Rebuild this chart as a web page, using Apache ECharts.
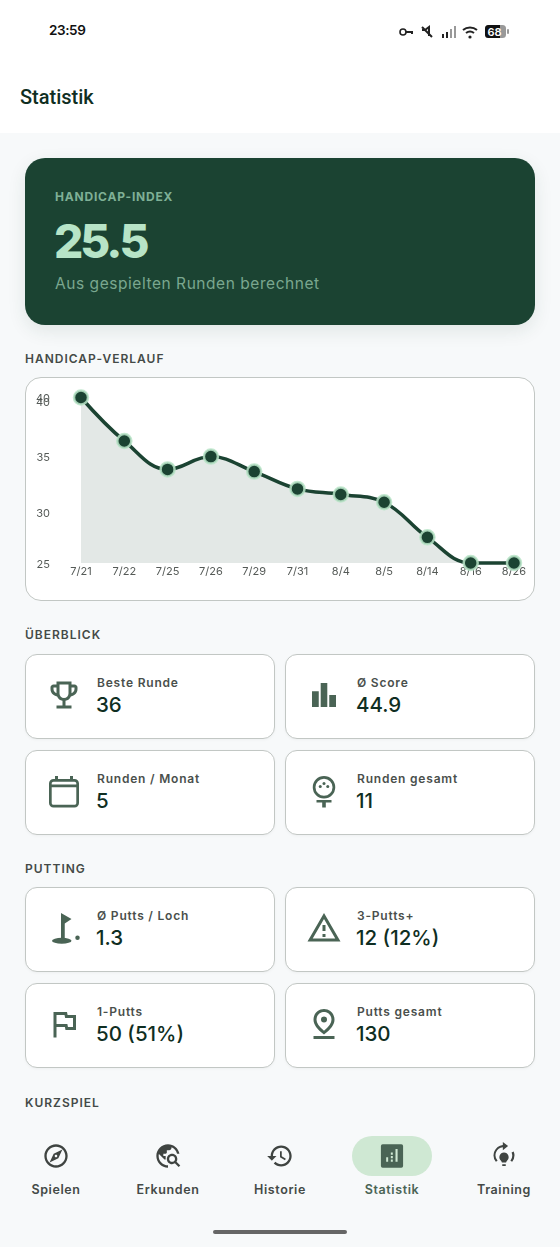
<!DOCTYPE html>
<html lang="de">
<head>
<meta charset="utf-8">
<title>Statistik</title>
<script src="https://cdn.jsdelivr.net/npm/echarts@6/dist/echarts.min.js"></script>
<style>
  html, body { margin: 0; padding: 0; width: 560px; height: 1247px; overflow: hidden; background: #f7f9fa; font-family: Inter, sans-serif; }
  .abs { position: absolute; white-space: nowrap; line-height: 1; }
  #header { position: absolute; left: 0; top: 0; width: 560px; height: 133px; background: #fff; }
  #hero { position: absolute; left: 25px; top: 158px; width: 510px; height: 167px; border-radius: 20px; background: #1b4332; box-shadow: 0 6px 18px rgba(27,67,50,.10); }
  .section { font-size: 12px; font-weight: 600; letter-spacing: 1px; color: #444a47; left: 25px; }
  .card { position: absolute; box-sizing: border-box; width: 250px; height: 85px; background: #fff; border: 1px solid #c2c7c4; border-radius: 12px; box-shadow: 0 1px 3px rgba(0,0,0,.04); }
  .card .lbl { position: absolute; left: 71px; top: 21px; font-size: 12px; font-weight: 600; letter-spacing: .8px; color: #4a4f4c; line-height: 14px; white-space: nowrap; }
  .card .val { position: absolute; left: 70px; top: 38px; font-size: 20.500px; font-weight: 500; color: #0f2e22; line-height: 24px; white-space: nowrap; }
  .card svg { position: absolute; left: 20px; top: 22px; width: 36px; height: 36px; fill: #4a6455; }
  #chartCard { position: absolute; box-sizing: border-box; left: 25px; top: 377px; width: 510px; height: 224px; background: #fff; border: 1px solid #c2c7c4; border-radius: 16px; }
  #chart { position: absolute; left: 25px; top: 377px; width: 510px; height: 224px; }
  #nav { position: absolute; left: 0; top: 1115px; width: 560px; height: 132px; background: #f7f9fa; }
  .nav-item { position: absolute; top: 1183px; width: 112px; text-align: center; font-size: 12.500px; font-weight: 600; letter-spacing: .6px; color: #444a47; line-height: 14px; }
  .nav-icon { position: absolute; width: 28px; height: 28px; top: 1142px; fill: #3f4441; }
  #pill { position: absolute; left: 352px; top: 1136px; width: 80px; height: 40px; border-radius: 20px; background: #cfe8d3; }
  #homebar { position: absolute; left: 213px; top: 1230px; width: 134px; height: 4px; border-radius: 2px; background: #666; }
</style>
</head>
<body>
<div id="header"></div>
<div class="abs" style="left:49px;top:24px;font-size:13.500px;font-weight:600;letter-spacing:-.4px;color:#111">23:59</div>
<svg class="abs" style="left:398px;top:22px" width="116" height="18" viewBox="0 0 116 18">
  <circle cx="5" cy="10" r="3" fill="none" stroke="#222" stroke-width="1.6"/>
  <path d="M8 9h7v3h-2v-1H8z" fill="#222"/>
  <path d="M24 8h3l4-3v9M24 5l10 10" fill="none" stroke="#222" stroke-width="2"/>
  <rect x="44" y="12" width="2" height="4" fill="#222"/><rect x="48" y="10" width="2" height="6" fill="#222"/>
  <rect x="52" y="7" width="2" height="9" fill="#999"/><rect x="56" y="4" width="2" height="12" fill="#999"/>
  <path d="M65 8a11 11 0 0 1 14 0M68 11a6.5 6.5 0 0 1 8 0" fill="none" stroke="#222" stroke-width="2"/>
  <circle cx="72" cy="15" r="1.6" fill="#222"/>
  <rect x="87" y="3" width="21" height="13" rx="3.5" fill="#999"/>
  <path d="M90.500 3H102v13H90.500a3.500 3.500 0 0 1-3.500-3.500v-6A3.500 3.500 0 0 1 90.500 3z" fill="#111"/>
  <text x="96.500" y="13.500" text-anchor="middle" font-family="Inter" font-size="11" font-weight="600" fill="#fff">68</text>
  <rect x="109" y="7" width="2" height="5" rx="1" fill="#999"/>
</svg>
<div class="abs" style="left:20px;top:87px;font-family:Roboto,sans-serif;font-size:20px;font-weight:500;color:#0f2e22">Statistik</div>

<div id="hero"></div>
<div class="abs" style="left:55px;top:191px;font-size:12px;font-weight:700;letter-spacing:.8px;color:#7fb096">HANDICAP-INDEX</div>
<div class="abs" style="left:54px;top:218px;font-size:46px;font-weight:800;letter-spacing:-3px;color:#b7e4c7">25.5</div>
<div class="abs" style="left:55px;top:276px;font-size:15.500px;letter-spacing:.55px;color:#7aa78f">Aus gespielten Runden berechnet</div>

<div class="abs section" style="top:353px">HANDICAP-VERLAUF</div>
<div id="chartCard"></div>
<div id="chart"></div>

<div class="abs section" style="top:629px">ÜBERBLICK</div>
<div class="abs section" style="top:863px">PUTTING</div>
<div class="abs section" style="top:1097px">KURZSPIEL</div>
<div id="cards"></div>

<div id="nav"></div>
<div id="pill"></div>
<div id="navItems"></div>
<div id="homebar"></div>

<script>
// chart data
const dates = ['7/21', '7/22', '7/25', '7/26', '7/29', '7/31', '8/4', '8/5', '8/14', '8/16', '8/26']
const handicap = [40.3, 36.4, 33.85, 35.0, 33.65, 32.1, 31.6, 30.9, 27.75, 25.45, 25.45]
const yTicks = [25.45, 30, 35, 40]
const yMaxTick = [40.3]

// stat cards
const overviewLabels = ['Beste Runde', 'Ø Score', 'Runden / Monat', 'Runden gesamt']
const overviewValues = ['36', '44.9', '5', '11']
const puttingLabels = ['Ø Putts / Loch', '3-Putts+', '1-Putts', 'Putts gesamt']
const puttingValues = ['1.3', '12 (12%)', '50 (51%)', '130']
const navLabels = ['Spielen', 'Erkunden', 'Historie', 'Statistik', 'Training']

const overviewIcons = [
  '<path d="M19 5h-2V3H7v2H5c-1.100 0-2 .9-2 2v1c0 2.550 1.920 4.630 4.390 4.940.63 1.500 1.980 2.630 3.610 2.960V19H7v2h10v-2h-4v-3.100c1.630-.33 2.980-1.460 3.610-2.960C19.080 12.630 21 10.550 21 8V7c0-1.100-.9-2-2-2zM5 8V7h2v3.820C5.840 10.400 5 9.300 5 8zm7 6c-1.650 0-3-1.350-3-3V5h6v6c0 1.650-1.350 3-3 3zm7-6c0 1.300-.84 2.400-2 2.820V7h2v1z"/>',
  '<path d="M4 9.500h4.500V20H4zM9.800 4h4.400v16H9.800zm5.700 8H20v8h-4.500z"/>',
  '<path fill-rule="evenodd" d="M6 2h2v2h8V2h2v2h1a3 3 0 0 1 3 3v13a3 3 0 0 1-3 3H5a3 3 0 0 1-3-3V7a3 3 0 0 1 3-3h1zM3.800 9.500V20c0 .7.5 1.200 1.200 1.200h14c.7 0 1.200-.5 1.200-1.200V9.500zm0-1.800h16.400V7c0-.7-.5-1.200-1.200-1.200H5C4.300 5.800 3.800 6.300 3.800 7z"/>',
  '<path fill-rule="evenodd" d="M12 2a7.500 7.500 0 1 1 0 15 7.500 7.500 0 0 1 0-15zm0 1.800a5.700 5.700 0 1 0 0 11.400 5.700 5.700 0 0 0 0-11.400z"/><circle cx="12" cy="7" r="1"/><circle cx="9.500" cy="9" r="1"/><circle cx="14.500" cy="9" r="1"/><path d="M7 18h10v1.600h-3.800V23h-2.400v-3.400H7z"/>'
]
const puttingIcons = [
  '<path d="M10 2l7 4-4.500 3V19H10z"/><ellipse cx="10.500" cy="20.500" rx="6.500" ry="2"/><circle cx="21" cy="18.500" r="1.500"/>',
  '<path d="M12 5.990L19.530 19H4.470L12 5.990M12 2L1 21h22L12 2zm1 14h-2v2h2v-2zm0-6h-2v4h2v-4z"/>',
  '<path d="M12.360 6l.4 2H18v6h-3.360l-.4-2H7V6h5.360M14 4H5v17h2v-7h5.600l.4 2h7V6h-5.600L14 4z"/>',
  '<path d="M12 4c1.930 0 5 1.400 5 5.150 0 2.160-1.720 4.670-5 7.320-3.280-2.650-5-5.170-5-7.320C7 5.400 10.070 4 12 4m0-2C8.730 2 5 4.460 5 9.150c0 3.120 2.330 6.410 7 9.850 4.670-3.440 7-6.730 7-9.850C19 4.460 15.270 2 12 2z"/><circle cx="12" cy="9" r="2"/><path d="M5 20h14v2H5z"/>'
]
const navIcons = [
  '<path d="M12 2C6.480 2 2 6.480 2 12s4.480 10 10 10 10-4.480 10-10S17.520 2 12 2zm0 18c-4.410 0-8-3.590-8-8s3.590-8 8-8 8 3.590 8 8-3.590 8-8 8zm-5.500-2.500l7.510-3.490L17.500 6.500 9.990 9.990 6.500 17.500zm5.500-6.600c.61 0 1.100.49 1.100 1.100s-.49 1.100-1.100 1.100-1.100-.49-1.100-1.100.49-1.100 1.100-1.100z"/>',
  '<path d="M19.300 16.900c.4-.7.7-1.500.7-2.400 0-2.500-2-4.500-4.500-4.500S11 12 11 14.500s2 4.500 4.500 4.500c.9 0 1.700-.3 2.400-.7l3.200 3.200 1.400-1.400-3.200-3.200zm-3.800.1c-1.400 0-2.500-1.100-2.500-2.500s1.100-2.500 2.500-2.500 2.500 1.100 2.500 2.500-1.100 2.500-2.500 2.500zM12 20v2C6.480 22 2 17.520 2 12S6.480 2 12 2c4.840 0 8.880 3.440 9.800 8h-2.070c-.64-2.460-2.400-4.470-4.730-5.460V5c0 1.100-.9 2-2 2h-2v2c0 .55-.45 1-1 1H8v2h2v3H9l-4.790-4.790C4.080 10.790 4 11.390 4 12c0 4.410 3.590 8 8 8z"/>',
  '<path d="M13 3c-4.970 0-9 4.030-9 9H1l3.890 3.890.07.14L9 12H6c0-3.870 3.130-7 7-7s7 3.130 7 7-3.130 7-7 7c-1.930 0-3.680-.79-4.940-2.060l-1.420 1.420C8.270 19.990 10.510 21 13 21c4.970 0 9-4.030 9-9s-4.030-9-9-9zm-1 5v5l4.280 2.540.72-1.210-3.500-2.080V8H12z"/>',
  '<path fill-rule="evenodd" d="M4 2h16a1.500 1.500 0 0 1 1.500 1.500v17A1.500 1.500 0 0 1 20 22H4a1.500 1.500 0 0 1-1.500-1.500v-17A1.500 1.500 0 0 1 4 2zm3 11v4h1.700v-4zm4-1v2h1.700v-2zm0 3v2h1.700v-2zm0-6v2h1.700V9zm4-3v11h1.800V6z" fill="#4a6455"/>',
  '<path d="M12 9a4 4 0 0 1 2.600 7c-.5.5-.8 1-.8 1.600h-3.600c0-.6-.3-1.100-.8-1.600A4 4 0 0 1 12 9zM10.500 19h3v1.500h-3z"/><path d="M5 17a9 9 0 0 1 6-14.500V0l4.500 3.500L11 7V4.400A7 7 0 0 0 6.500 16zM19 17l-1.500-1A7 7 0 0 0 18.500 9l1.800-.8A9 9 0 0 1 19 17z"/>'
]

// cards
const cardsEl = document.getElementById('cards')
function addCards (labels, values, icons, top) {
  labels.forEach((label, i) => {
    const card = document.createElement('div')
    card.className = 'card'
    card.style.left = (i % 2 ? 285 : 25) + 'px'
    card.style.top = (top + (i >> 1) * 96) + 'px'
    card.innerHTML = '<svg viewBox="0 0 24 24">' + icons[i] + '</svg>' +
      '<div class="lbl">' + label + '</div><div class="val">' + values[i] + '</div>'
    cardsEl.appendChild(card)
  })
}
addCards(overviewLabels, overviewValues, overviewIcons, 654)
addCards(puttingLabels, puttingValues, puttingIcons, 887)

// bottom navigation
const navEl = document.getElementById('navItems')
navLabels.forEach((label, i) => {
  const center = 56 + i * 112
  navEl.innerHTML += '<svg class="nav-icon" viewBox="0 0 24 24" style="left:' + (center - 14) + 'px">' + navIcons[i] + '</svg>' +
    '<div class="nav-item" style="left:' + (center - 56) + 'px;' + (i === 3 ? 'color:#4a6455' : '') + '">' + label + '</div>'
})

// handicap chart
const myChart = echarts.init(document.getElementById('chart'))

// the two top labels sit 3px apart, one axis drops the second one
const yAxisFor = ticks => ({
  type: 'value',
  position: 'left',
  min: 25.45,
  max: 40.3,
  axisLine: { show: false },
  axisTick: { show: false },
  splitLine: { show: false },
  axisLabel: {
    customValues: ticks,
    margin: 31,
    hideOverlap: false,
    verticalAlign: 'top',
    lineHeight: 3,
    fontFamily: 'Inter',
    fontSize: 11,
    letterSpacing: 1,
    color: '#555a57',
    formatter: v => String(Math.floor(v))
  }
})

const option = {
  animation: false,
  grid: { left: 56, right: 21, top: 20.5, bottom: 38 },
  xAxis: {
    type: 'category',
    data: dates,
    boundaryGap: false,
    axisLine: { show: false },
    axisTick: { show: false },
    splitLine: { show: false },
    axisLabel: {
      interval: 0,
      margin: 3,
      fontFamily: 'Inter',
      fontSize: 11,
      letterSpacing: 1,
      color: '#555a57'
    }
  },
  yAxis: [yAxisFor(yTicks), yAxisFor(yMaxTick)],
  series: [
    {
      type: 'line',
      data: handicap,
      smooth: 0.4,
      symbol: 'circle',
      symbolSize: 14,
      showSymbol: true,
      clip: false,
      lineStyle: { color: '#1b4332', width: 3.5 },
      itemStyle: { color: '#1b4332', borderColor: 'rgba(183,228,199,0.85)', borderWidth: 2.5 },
      areaStyle: { color: 'rgba(27,67,50,0.12)', opacity: 1, origin: 'start' }
    }
  ]
}
myChart.setOption(option)
</script>
</body>
</html>
